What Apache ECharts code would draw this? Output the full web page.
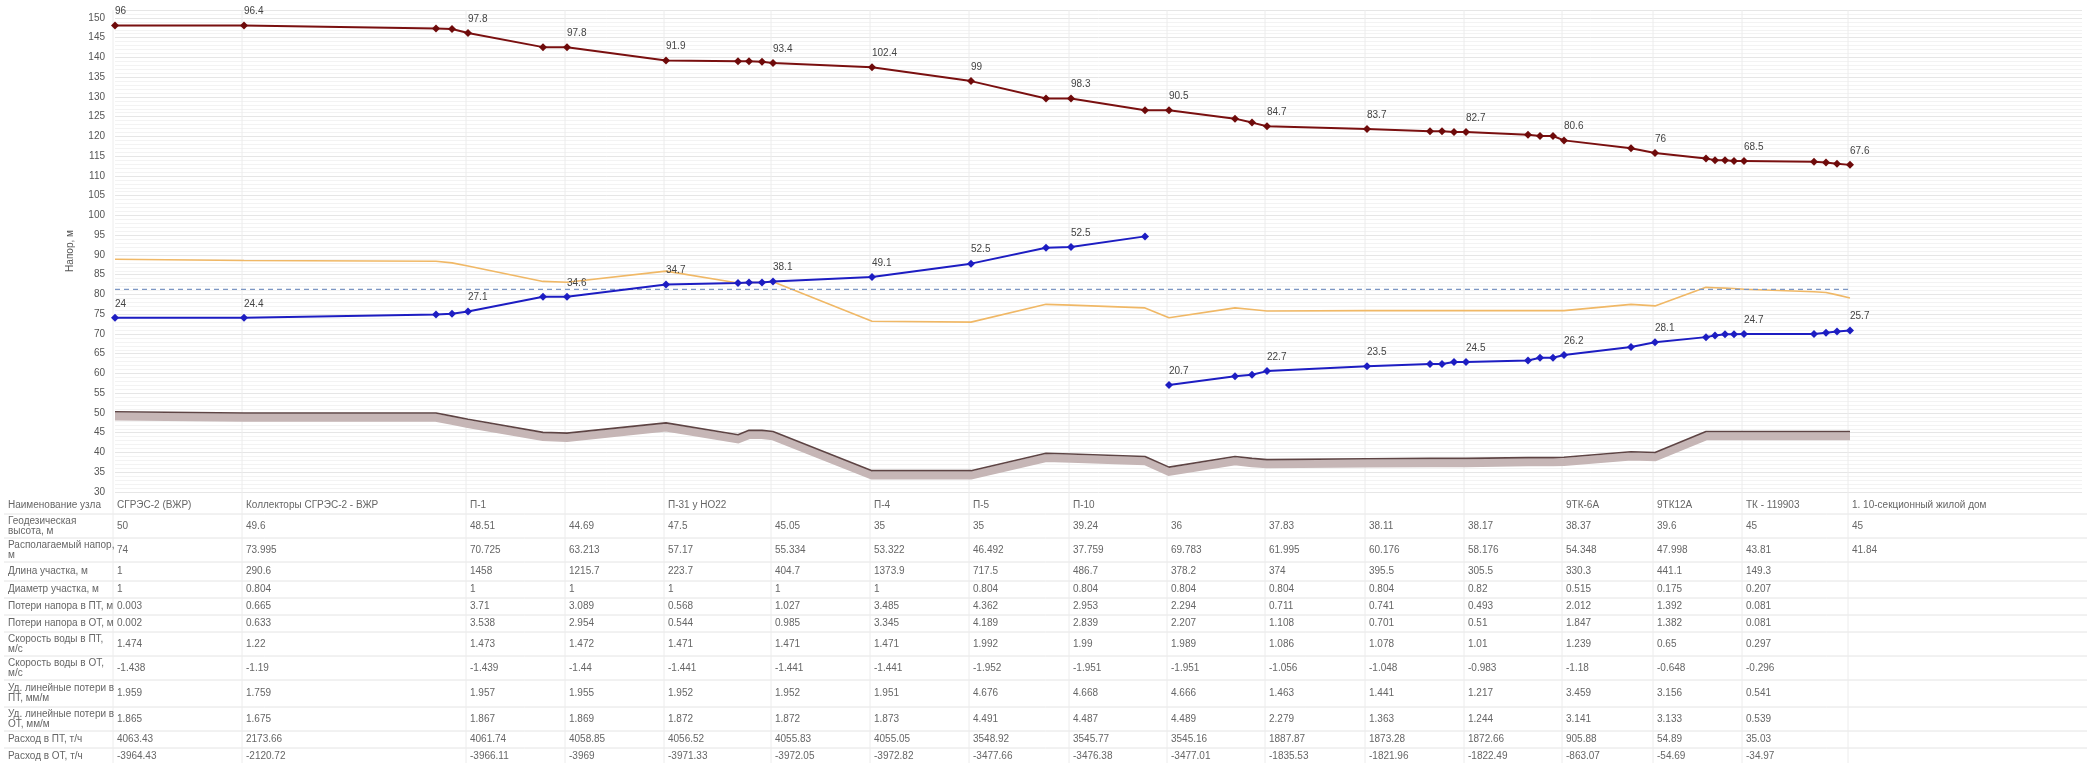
<!DOCTYPE html>
<html><head><meta charset="utf-8">
<script src="https://cdn.jsdelivr.net/npm/echarts@6/dist/echarts.min.js"></script>
<style>html,body{margin:0;padding:0;background:#fff}#c{width:2087px;height:763px}</style>
</head><body><div id="c"></div>
<script>
// distance along the route (chart units), all points
const dist = [0,129,321,337,353,428,452,551,623,634,647,658,757,856,931,956,1030,1054,1120,1137,1152,1252,1315,1327,1339,1351,1413,1425,1438,1449,1516,1540,1591,1600,1610,1619,1629,1699,1711,1722,1735];
// indices of named nodes (table columns)
const nodeIdx = [0,1,4,6,7,11,12,13,15,17,20,21,25,29,31,36,40];
// supply line head, m
const supply = [148.1,148.1,147.3,147.2,146.2,142.6,142.6,139.2,139.0,139.0,138.9,138.6,137.5,134.0,129.6,129.6,126.6,126.6,124.5,123.5,122.6,121.9,121.3,121.3,121.1,121.1,120.4,120.1,120.1,119.0,117.0,115.8,114.4,114.0,114.0,113.8,113.8,113.6,113.4,113.1,112.8];
const supplyLabels = ['96','96.4','97.8','97.8','91.9','93.4','102.4','99','98.3','90.5','84.7','83.7','82.7','80.6','76','68.5','67.6'];
// return line head, m (two branches)
const returnA = [74.1,74.1,74.9,75.1,75.7,79.4,79.4,82.5,82.9,83.0,83.0,83.3,84.4,87.8,91.8,92.0,94.7];
const returnALabels = ['24','24.4','27.1','34.6','34.7','38.1','49.1','52.5','52.5'];
const returnB = [57.1,59.3,59.7,60.6,61.8,62.4,62.4,62.9,62.9,63.3,64.0,64.0,64.7,66.7,67.9,69.2,69.6,69.9,69.9,70.0,70.0,70.3,70.6,70.9];
const returnBLabels = ['20.7','22.7','23.5','24.5','26.2','28.1','24.7','25.7'];
// static head line
const staticHead = [88.9,88.6,88.4,88.0,87.2,83.3,83.1,85.9,82.9,83.0,83.1,83.2,73.2,73.0,77.5,77.3,76.6,74.1,76.6,76.2,75.8,75.9,75.9,75.9,75.9,75.9,75.9,75.9,75.9,75.9,77.5,77.1,81.8,81.7,81.6,81.5,81.3,80.7,80.5,79.9,79.1];
const dashedLevel = 81.3;
// ground profile
const ground = [50.3,50.0,50.0,49.2,48.4,45.1,44.9,47.5,44.5,45.6,45.6,45.3,35.4,35.4,39.8,39.6,39.0,36.3,39.0,38.5,38.2,38.4,38.5,38.5,38.5,38.5,38.7,38.7,38.7,38.8,40.2,40.0,45.3,45.3,45.3,45.3,45.3,45.3,45.3,45.3,45.3];
const yTicks = {min:30, max:152, interval:5};

// table
const rowNames = ['Наименование узла','Геодезическая\nвысота, м','Располагаемый напор,\nм','Длина участка, м','Диаметр участка, м','Потери напора в ПТ, м','Потери напора в ОТ, м','Скорость воды в ПТ,\nм/с','Скорость воды в ОТ,\nм/с','Уд. линейные потери в\nПТ, мм/м','Уд. линейные потери в\nОТ, мм/м','Расход в ПТ, т/ч','Расход в ОТ, т/ч'];
const nodeNames = ['СГРЭС-2 (ВЖР)','Коллекторы СГРЭС-2 - ВЖР','П-1','','П-31 у НО22','','П-4','П-5','П-10','','','','','9ТК-6А','9ТК12А','ТК - 119903','1. 10-секционный жилой дом'];
const geoHeight = ['50','49.6','48.51','44.69','47.5','45.05','35','35','39.24','36','37.83','38.11','38.17','38.37','39.6','45','45'];
const availHead = ['74','73.995','70.725','63.213','57.17','55.334','53.322','46.492','37.759','69.783','61.995','60.176','58.176','54.348','47.998','43.81','41.84'];
const segLength = ['1','290.6','1458','1215.7','223.7','404.7','1373.9','717.5','486.7','378.2','374','395.5','305.5','330.3','441.1','149.3'];
const segDiam = ['1','0.804','1','1','1','1','1','0.804','0.804','0.804','0.804','0.804','0.82','0.515','0.175','0.207'];
const lossPT = ['0.003','0.665','3.71','3.089','0.568','1.027','3.485','4.362','2.953','2.294','0.711','0.741','0.493','2.012','1.392','0.081'];
const lossOT = ['0.002','0.633','3.538','2.954','0.544','0.985','3.345','4.189','2.839','2.207','1.108','0.701','0.51','1.847','1.382','0.081'];
const velPT = ['1.474','1.22','1.473','1.472','1.471','1.471','1.471','1.992','1.99','1.989','1.086','1.078','1.01','1.239','0.65','0.297'];
const velOT = ['-1.438','-1.19','-1.439','-1.44','-1.441','-1.441','-1.441','-1.952','-1.951','-1.951','-1.056','-1.048','-0.983','-1.18','-0.648','-0.296'];
const specPT = ['1.959','1.759','1.957','1.955','1.952','1.952','1.951','4.676','4.668','4.666','1.463','1.441','1.217','3.459','3.156','0.541'];
const specOT = ['1.865','1.675','1.867','1.869','1.872','1.872','1.873','4.491','4.487','4.489','2.279','1.363','1.244','3.141','3.133','0.539'];
const flowPT = ['4063.43','2173.66','4061.74','4058.85','4056.52','4055.83','4055.05','3548.92','3545.77','3545.16','1887.87','1873.28','1872.66','905.88','54.89','35.03'];
const flowOT = ['-3964.43','-2120.72','-3966.11','-3969','-3971.33','-3972.05','-3972.82','-3477.66','-3476.38','-3477.01','-1835.53','-1821.96','-1822.49','-863.07','-54.69','-34.97'];
const tableRows = [nodeNames, geoHeight, availHead, segLength, segDiam, lossPT, lossOT, velPT, velOT, specPT, specOT, flowPT, flowOT];

const FONT = '"Liberation Sans", Arial, sans-serif';
const lblStyle = {show:true, position:'top', align:'left', distance:5, color:'#444', fontSize:10, fontFamily:FONT};

function withLabels(idxList, vals, nodes, labels){
  return vals.map((v,i)=>{
    const k = idxList[i];
    const n = nodes.indexOf(k);
    const item = {value:[dist[k], v]};
    if (n >= 0) item.label = Object.assign({}, lblStyle, {formatter: labels[n]});
    return item;
  });
}
const allIdx = dist.map((d,i)=>i);
const idxA = allIdx.slice(0,17), idxB = allIdx.slice(17);
const nodesA = nodeIdx.filter(k=>k<=16), nodesB = nodeIdx.filter(k=>k>=17);

const chart = echarts.init(document.getElementById('c'), null, {renderer:'canvas'});
const option = {
  animation:false,
  backgroundColor:'#fff',
  grid:{left:115, top:10, right:5, bottom:271, containLabel:false},
  xAxis:{type:'value', min:0, max:1967, show:false},
  yAxis:{type:'value', min:yTicks.min, max:yTicks.max, interval:yTicks.interval,
    name:'Напор, м', nameLocation:'middle', nameGap:40, nameRotate:90,
    nameTextStyle:{color:'#555', fontSize:10, fontFamily:FONT},
    axisLine:{show:false}, axisTick:{show:false},
    axisLabel:{color:'#555', fontSize:10, fontFamily:FONT, margin:10, showMaxLabel:false},
    splitLine:{show:true, lineStyle:{color:'#e6e6e6', width:1}},
    minorTick:{show:false, splitNumber:5},
    minorSplitLine:{show:true, lineStyle:{color:'#f3f3f3', width:1}}
  },
  series:[
    {type:'line', name:'groundShade', data: dist.map((d,i)=>[d, ground[i]-1.2]), symbol:'none',
      lineStyle:{color:'#c6b6b6', width:8, join:'miter'}, silent:true, z:1},
    {type:'line', name:'ground', data: dist.map((d,i)=>[d, ground[i]]), symbol:'none',
      lineStyle:{color:'#5e4444', width:1.6}, silent:true, z:2},
    {type:'line', name:'static', data: dist.map((d,i)=>[d, staticHead[i]]), symbol:'none',
      lineStyle:{color:'#f0b866', width:1.6}, silent:true, z:3},
    {type:'line', name:'level', data: [[dist[0], dashedLevel],[dist[dist.length-1], dashedLevel]], symbol:'none',
      lineStyle:{color:'#7d97c4', width:1.2, type:[5,4]}, silent:true, z:3},
    {type:'line', name:'returnA', data: withLabels(idxA, returnA, nodesA, returnALabels),
      symbol:'diamond', symbolSize:8, itemStyle:{color:'#1d1dc2'}, lineStyle:{color:'#1d1dc2', width:2}, z:5},
    {type:'line', name:'returnB', data: withLabels(idxB, returnB, nodesB, returnBLabels),
      symbol:'diamond', symbolSize:8, itemStyle:{color:'#1d1dc2'}, lineStyle:{color:'#1d1dc2', width:2}, z:5},
    {type:'line', name:'supply', data: withLabels(allIdx, supply, nodeIdx, supplyLabels),
      symbol:'diamond', symbolSize:8, itemStyle:{color:'#6e0a0a'}, lineStyle:{color:'#7a1010', width:2}, z:6}
  ]
};
chart.setOption(option);

// table drawn below the plot, columns placed at node positions via the x axis
const rowBounds = [497,514,538,562,581,598,615,632,656,680,707,731,748,765];
const g = [];
const W = 2087;
for (let r=0; r<rowBounds.length; r++){
  if (r>0) g.push({type:'line', silent:true, shape:{x1:4, y1:rowBounds[r], x2:W, y2:rowBounds[r]}, style:{stroke:'#e4e4e4', lineWidth:1}});
}
const nodePx = nodeIdx.map(k=>chart.convertToPixel({xAxisIndex:0, yAxisIndex:0}, [dist[k], 30])[0]);
const plotTop = chart.convertToPixel({xAxisIndex:0, yAxisIndex:0}, [0, yTicks.max])[1];
nodePx.forEach(px=>{
  g.push({type:'line', silent:true, shape:{x1:px-2, y1:plotTop, x2:px-2, y2:763}, style:{stroke:'#ececec', lineWidth:1}});
});
rowNames.forEach((name,r)=>{
  const cy = (rowBounds[r]+rowBounds[r+1])/2;
  g.push({type:'text', silent:true, x:8, y:cy, style:{text:name, fill:'#666', font:'10px '+FONT, textVerticalAlign:'middle', verticalAlign:'middle', lineHeight:10}});
  tableRows[r].forEach((t,c)=>{
    if (!t) return;
    g.push({type:'text', silent:true, x:nodePx[c]+2, y:cy, style:{text:t, fill:'#666', font:'10px '+FONT, textVerticalAlign:'middle', verticalAlign:'middle'}});
  });
});
chart.setOption({graphic:g});
</script></body></html>
